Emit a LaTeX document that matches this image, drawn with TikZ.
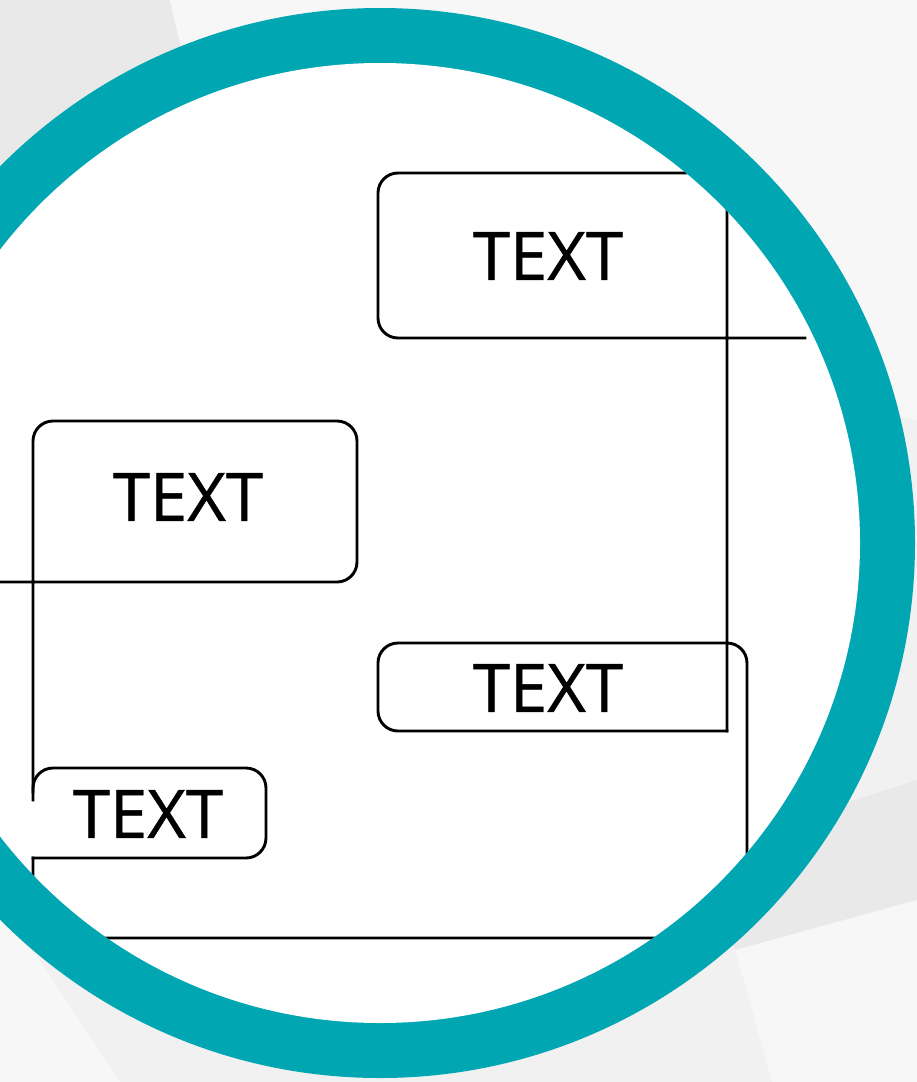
\documentclass[tikz,border=0pt]{standalone}
\usepackage{fontspec}
\setmainfont{Open Sans}
\newfontfamily\labelfont{Open Sans}[FakeBold=0.7]
\definecolor{ringteal}{RGB}{0,166,177}
\definecolor{bgbase}{RGB}{241,241,241}
\definecolor{bgdark}{RGB}{233,233,233}
\definecolor{bglight}{RGB}{247,247,247}
\begin{document}
\begin{tikzpicture}[x=1pt,y=-1pt,
  outline/.style={draw=black,line width=2.9pt,line cap=rect,line join=miter,rounded corners=20pt},
  label/.style={inner sep=0pt,font=\labelfont\fontsize{67}{67}\selectfont}]
\useasboundingbox (0,0) rectangle (917,1082);
% soft background facets
\fill[bgbase] (0,0) rectangle (917,1082);
\fill[bgdark] (0,0) -- (170,0) -- (240,300) -- (0,300) -- cycle;
\fill[bglight] (170,0) -- (917,0) -- (917,420) -- (240,300) -- cycle;
\fill[bgdark] (700,850) -- (917,780) -- (917,1082) -- (772,1082) -- (735,950) -- cycle;
\fill[bglight] (735,950) -- (917,900) -- (917,1082) -- (772,1082) -- cycle;
\fill[bglight] (0,900) -- (120,1082) -- (0,1082) -- cycle;
% ring
\coordinate (c) at (380,543);
\fill[ringteal] (c) circle[radius=535pt];
\fill[white] (c) circle[radius=480pt];
\begin{scope}
  \clip (c) circle[radius=480pt];
  % outline of the boxes and their linking lines
  \draw[outline] (805,338) -- (378,338) -- (378,173) -- (727,173) -- (727,731);
  \draw[outline] (727,731) -- (378,731) -- (378,643) -- (747,643) -- (747,938) -- (33,938) -- (33,858);
  \draw[outline] (33,800) -- (33,768) -- (266,768) -- (266,858) -- (33,858);
  \draw[outline] (-10,582) -- (357,582) -- (357,421) -- (33,421) -- (33,792);
  % labels
  \node[label] (ta) at (548,256) {TEXT};
  \node[label] (tb) at (188,497) {TEXT};
  \node[label] (tc) at (548,688) {TEXT};
  \node[label] (td) at (148,814) {TEXT};
\end{scope}
\end{tikzpicture}
\end{document}
